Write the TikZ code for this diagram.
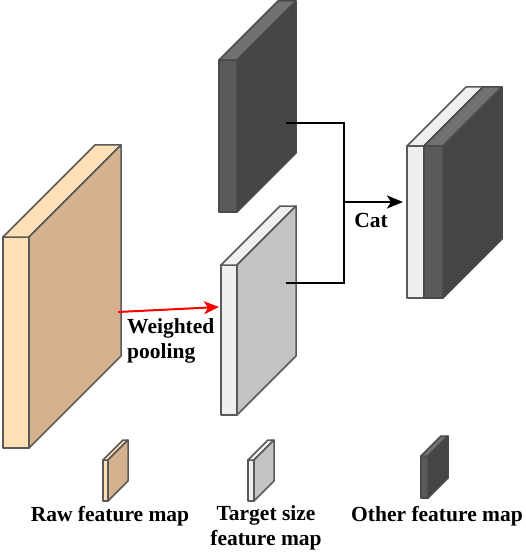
\documentclass[tikz,border=0pt]{standalone}
\usepackage{fontspec}
\setmainfont{Liberation Serif}
\usetikzlibrary{arrows.meta, positioning, calc}
\definecolor{rawf}{HTML}{FFE0B5}
\definecolor{raws}{HTML}{D5B28D}
\definecolor{rawt}{HTML}{FFE0B5}
\definecolor{rawe}{HTML}{595959}
\definecolor{tgtf}{HTML}{EFEFEF}
\definecolor{tgts}{HTML}{C3C3C3}
\definecolor{tgtt}{HTML}{EFEFEF}
\definecolor{tgte}{HTML}{595959}
\definecolor{othf}{HTML}{5A5A5A}
\definecolor{oths}{HTML}{454545}
\definecolor{otht}{HTML}{717171}
\definecolor{othe}{HTML}{4A4A4A}
% one feature map slab: name, kind, x, y (top of front face), width, height, depth
\newcommand{\fmap}[7]{%
  \begin{scope}[draw=#2e, line width=1.5pt, line join=round]
    \filldraw[fill=#2f] (#3,#4) rectangle ++(#5,#6);
    \filldraw[fill=#2t] (#3,#4) -- ++(#5,0) -- ++(#7,-#7) -- ++(-#5,0) -- cycle;
    \filldraw[fill=#2s] (#3+#5,#4) -- ++(#7,-#7) -- ++(0,#6) -- ++(-#7,#7) -- cycle;
  \end{scope}
  \coordinate (#1) at (#3,#4);
}
\tikzset{
  font=\bfseries\fontsize{21.5}{25}\selectfont,
  link/.style={draw=black, line width=2pt},
  flow/.style={link, -{Stealth[length=16pt, width=13pt, inset=4pt]}},
  pool/.style={draw=red, line width=2pt, -{Stealth[length=15pt, width=13pt, inset=4pt]}},
  lbl/.style={inner sep=0pt, align=center, text=black},
}

\begin{document}
\begin{tikzpicture}[x=1pt, y=-1pt]
  \useasboundingbox (0,0) rectangle (526,553);

  % the maps
  \fmap{raw}{raw}{3}{237}{26}{211}{92}
  \fmap{other}{oth}{219}{60}{18}{152}{59}
  \fmap{target}{tgt}{221}{265}{16}{150}{59}
  \fmap{catw}{tgt}{407}{146}{17}{152}{59}
  \fmap{catd}{oth}{424}{146}{19}{152}{59}

  % connector ends
  \coordinate (pool-out) at (118,312);
  \coordinate (pool-in) at (219,307);
  \coordinate (oth-out) at (286,123);
  \coordinate (tgt-out) at (286,283);
  \coordinate (join) at (344,202);
  \coordinate (cat-in) at (403,202);

  \draw[pool] (pool-out) -- (pool-in);
  \node[lbl, align=left, anchor=north west] (pool-lbl) at (127,318) {Weighted\\pooling};

  \draw[link] (oth-out) -| (join) |- (tgt-out);
  \draw[flow] (join) -- (cat-in);
  \node[lbl] (cat-lbl) at (371,220) {Cat};

  % legend
  \fmap{lraw}{raw}{103}{460}{5}{41}{20}
  \fmap{ltgt}{tgt}{248}{460}{6}{41}{20}
  \fmap{loth}{oth}{421}{456}{7}{42}{20}
  \node[lbl] (raw-lbl) at (110,516) {Raw feature map};
  \node[lbl] (tgt-lbl) at (266,528) {Target size\\feature map};
  \node[lbl] (oth-lbl) at (437,516) {Other feature map};

\end{tikzpicture}
\end{document}
